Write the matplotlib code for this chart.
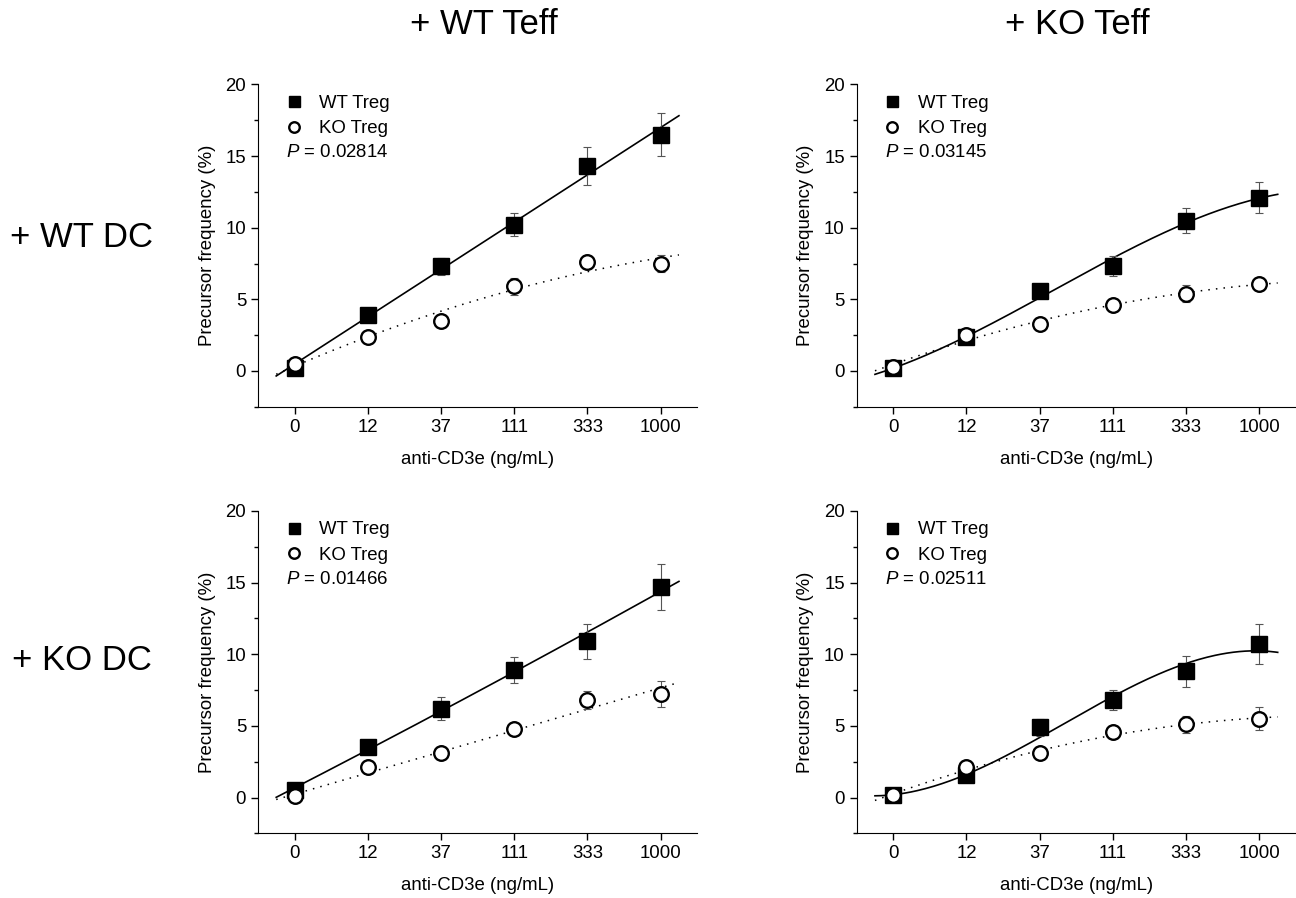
import numpy as np
import matplotlib
matplotlib.use("Agg")
import matplotlib.pyplot as plt
from matplotlib.ticker import MultipleLocator

plt.rcParams['font.family'] = ['Liberation Sans', 'DejaVu Sans']
plt.rcParams['mathtext.fontset'] = 'custom'
plt.rcParams['mathtext.it'] = 'Liberation Sans:italic'
plt.rcParams['mathtext.rm'] = 'Liberation Sans'

doses = ["0", "12", "37", "111", "333", "1000"]
col_titles = ["+ WT Teff", "+ KO Teff"]
row_titles = ["+ WT DC", "+ KO DC"]

# panels: (row, col)
wt_11 = [0.2, 3.9, 7.3, 10.2, 14.3, 16.5]
wt_11_err = [0.1, 0.2, 0.6, 0.8, 1.3, 1.5]
ko_11 = [0.5, 2.4, 3.5, 5.9, 7.6, 7.5]
ko_11_err = [0.2, 0.2, 0.1, 0.6, 0.5, 0.6]
p_11 = "0.02814"

wt_12 = [0.2, 2.4, 5.6, 7.3, 10.5, 12.1]
wt_12_err = [0.1, 0.1, 0.5, 0.7, 0.9, 1.1]
ko_12 = [0.3, 2.5, 3.3, 4.6, 5.4, 6.1]
ko_12_err = [0.1, 0.1, 0.1, 0.4, 0.6, 0.4]
p_12 = "0.03145"

wt_21 = [0.5, 3.5, 6.2, 8.9, 10.9, 14.7]
wt_21_err = [0.1, 0.1, 0.8, 0.9, 1.2, 1.6]
ko_21 = [0.1, 2.1, 3.1, 4.8, 6.8, 7.2]
ko_21_err = [0.2, 0.2, 0.1, 0.3, 0.6, 0.9]
p_21 = "0.01466"

wt_22 = [0.2, 1.6, 4.9, 6.8, 8.8, 10.7]
wt_22_err = [0.1, 0.1, 0.6, 0.7, 1.1, 1.4]
ko_22 = [0.2, 2.1, 3.1, 4.6, 5.1, 5.5]
ko_22_err = [0.1, 0.1, 0.1, 0.2, 0.6, 0.8]
p_22 = "0.02511"

# fit settings per curve: (degree, weighted by error?) for WT and KO
panels = [
    (0, 0, wt_11, wt_11_err, ko_11, ko_11_err, p_11, (1, False), (2, False)),
    (0, 1, wt_12, wt_12_err, ko_12, ko_12_err, p_12, (3, True), (2, False)),
    (1, 0, wt_21, wt_21_err, ko_21, ko_21_err, p_21, (2, False), (2, True)),
    (1, 1, wt_22, wt_22_err, ko_22, ko_22_err, p_22, (3, True), (2, True)),
]

def fit_curve(x, y, err, opt, xf):
    deg, weighted = opt
    wts = 1.0 / np.asarray(err) if weighted else None
    coef = np.polyfit(x, y, deg, w=wts)
    return np.polyval(coef, xf)

fig = plt.figure(figsize=(12.96, 8.98), dpi=100)
lefts = [0.199, 0.661]
bottoms = [0.547, 0.072]
w, h = 0.339, 0.359
fs = 13.4

for r, c, wt, wt_e, ko, ko_e, p, ow, ok in panels:
    ax = fig.add_axes([lefts[c], bottoms[r], w, h])
    x = np.arange(len(doses))
    xf = np.linspace(-0.25, 5.25, 200)
    ax.plot(xf, fit_curve(x, ko, ko_e, ok, xf), color='black', lw=1.1,
            ls=(0, (1, 4)), zorder=2)
    ax.plot(xf, fit_curve(x, wt, wt_e, ow, xf), color='black', lw=1.2, zorder=2)
    ax.errorbar(x, wt, yerr=wt_e, fmt='none', ecolor='#555555', elinewidth=0.8,
                capsize=3, capthick=0.8, zorder=3)
    ax.errorbar(x, ko, yerr=ko_e, fmt='none', ecolor='#555555', elinewidth=0.8,
                capsize=3, capthick=0.8, zorder=3)
    ax.plot(x, wt, 's', color='black', ms=11, zorder=4, label='WT Treg')
    ax.plot(x, ko, 'o', mfc='white', mec='black', mew=1.7, ms=10.5, zorder=5,
            label='KO Treg')

    ax.set_xlim(-0.5, 5.5)
    ax.set_ylim(-2.5, 20)
    ax.set_xticks(x)
    ax.set_xticklabels(doses)
    ax.yaxis.set_major_locator(MultipleLocator(5))
    ax.yaxis.set_minor_locator(MultipleLocator(2.5))
    ax.tick_params(axis='both', which='major', labelsize=fs, length=5, width=1)
    ax.tick_params(axis='y', which='minor', length=3, width=1)
    ax.spines['top'].set_visible(False)
    ax.spines['right'].set_visible(False)
    ax.set_xlabel("anti-CD3e (ng/mL)", fontsize=fs, labelpad=11)
    ax.set_ylabel("Precursor frequency (%)", fontsize=fs, labelpad=7)

    ax.legend(loc='upper left', bbox_to_anchor=(0.018, 1.02), frameon=False,
              fontsize=fs, handletextpad=0.75, labelspacing=0.45,
              handlelength=1.2, markerscale=0.72)
    ax.text(0.064, 0.788, r"$P$ = " + p, transform=ax.transAxes, fontsize=fs,
            va='center', ha='left')

fig.text(0.373, 0.973, col_titles[0], fontsize=25, ha='center', va='center')
fig.text(0.831, 0.973, col_titles[1], fontsize=25, ha='center', va='center')
fig.text(0.063, 0.736, row_titles[0], fontsize=25, ha='center', va='center')
fig.text(0.063, 0.265, row_titles[1], fontsize=25, ha='center', va='center')

fig.savefig("out.png", dpi=100)
